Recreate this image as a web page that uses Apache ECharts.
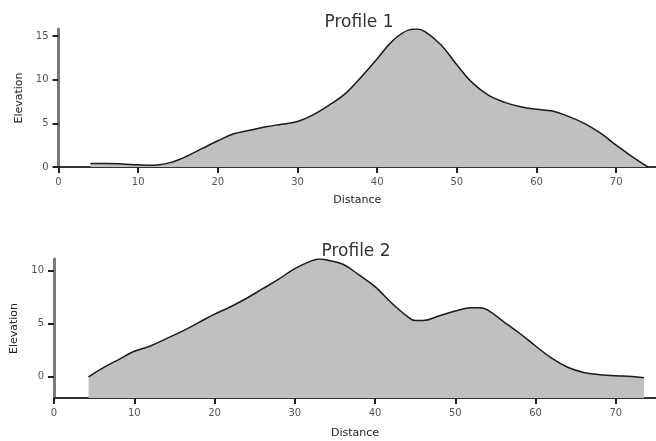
<!DOCTYPE html>
<html>
<head>
<meta charset="utf-8">
<title>Elevation profiles</title>
<script src="https://cdn.jsdelivr.net/npm/echarts@6/dist/echarts.min.js"></script>
<style>
  html, body { margin: 0; padding: 0; background: #ffffff; }
  #chart { width: 656px; height: 441px; }
</style>
</head>
<body>
<div id="chart"></div>
<script>
// Profile 1: distance along the transect and elevation at each sample
const distance1 = [4, 6, 8, 10, 12, 13, 14, 15, 16, 18, 20, 22, 24, 26, 28, 30, 32, 34, 36, 38,
                   40, 42, 44, 45, 46, 48, 50, 52, 54, 56, 58, 60, 62, 64, 66, 68, 70, 72, 74];
const elevation1 = [0.4, 0.4, 0.35, 0.25, 0.2, 0.3, 0.5, 0.8, 1.2, 2.1, 3.0, 3.8, 4.2, 4.6, 4.9, 5.2, 6.0, 7.1, 8.4, 10.3,
                    12.4, 14.5, 15.7, 15.8, 15.5, 14.0, 11.7, 9.6, 8.2, 7.4, 6.9, 6.6, 6.4, 5.8, 5.0, 3.9, 2.5, 1.2, 0];

// Profile 2
const distance2 = [4.3, 6, 8, 10, 12, 14, 16, 18, 20, 22, 24, 26, 28, 30, 32, 33, 34, 36, 38, 40,
                   42, 44, 45, 46, 48, 50, 52, 53, 54, 56, 58, 60, 62, 64, 66, 68, 70, 72, 73.5];
const elevation2 = [0, 0.8, 1.6, 2.4, 2.9, 3.6, 4.3, 5.1, 5.9, 6.6, 7.4, 8.3, 9.2, 10.2, 10.9, 11.1, 11.0, 10.6, 9.6, 8.5,
                    7.0, 5.7, 5.3, 5.3, 5.75, 6.2, 6.5, 6.5, 6.3, 5.2, 4.1, 2.9, 1.75, 0.9, 0.4, 0.2, 0.1, 0.03, -0.1];

const titles = ['Profile 1', 'Profile 2'];
const xTicks = [0, 10, 20, 30, 40, 50, 60, 70];
const yTicks1 = [0, 5, 10, 15];
const yTicks2 = [0, 5, 10];

const FONT = 'DejaVu Sans';
const tickLine = { color: '#222', width: 2 };
const labelText = { fontFamily: FONT, fontSize: 10, color: '#555' };
const nameText = { fontFamily: FONT, fontSize: 11, color: '#222' };

function pairs(xs, ys) {
  return xs.map((x, i) => [x, ys[i]]);
}

function xAxisFor(gridIndex, gap) {
  return {
    type: 'value', gridIndex, min: 0, max: 75,
    name: 'Distance', nameLocation: 'middle', nameGap: gap,
    nameTextStyle: nameText,
    axisLine: { show: true, onZero: false, lineStyle: { color: '#333', width: 2 } },
    axisTick: { show: true, inside: false, length: 6, customValues: xTicks, lineStyle: tickLine },
    axisLabel: Object.assign({ customValues: xTicks, margin: 10 }, labelText),
    splitLine: { show: false }
  };
}

function yAxisFor(gridIndex, min, max, ticks, gap) {
  return {
    type: 'value', gridIndex, min, max,
    name: 'Elevation', nameLocation: 'middle', nameGap: gap, nameRotate: 90,
    nameTextStyle: nameText,
    axisLine: { show: true, lineStyle: { color: '#7a7a7a', width: 3 } },
    axisTick: { show: true, inside: false, length: 6, customValues: ticks, lineStyle: tickLine },
    axisLabel: Object.assign({ customValues: ticks, margin: 10 }, labelText),
    splitLine: { show: false }
  };
}

function profileSeries(idx, data) {
  return {
    type: 'line', xAxisIndex: idx, yAxisIndex: idx,
    data, smooth: 0.4, symbol: 'none',
    lineStyle: { color: '#1a1a1a', width: 1.5 },
    areaStyle: { color: '#c0c0c0', opacity: 1, origin: 'start' },
    silent: true
  };
}

const chart = echarts.init(document.getElementById('chart'), null, { renderer: 'canvas' });
chart.setOption({
  animation: false,
  backgroundColor: '#ffffff',
  title: [
    { text: titles[0], left: 354, top: 9, textAlign: 'center',
      textStyle: { fontFamily: FONT, fontSize: 17, fontWeight: 'normal', color: '#333' } },
    { text: titles[1], left: 351, top: 238, textAlign: 'center',
      textStyle: { fontFamily: FONT, fontSize: 17, fontWeight: 'normal', color: '#333' } }
  ],
  grid: [
    { left: 58.5, top: 29, width: 597.5, height: 138, outerBoundsMode: 'none', containLabel: false },
    { left: 54, top: 259, width: 602, height: 139, outerBoundsMode: 'none', containLabel: false }
  ],
  xAxis: [xAxisFor(0, 28), xAxisFor(1, 30)],
  yAxis: [yAxisFor(0, 0, 15.8, yTicks1, 34), yAxisFor(1, -2, 11.1, yTicks2, 34)],
  series: [
    profileSeries(0, pairs(distance1, elevation1)),
    profileSeries(1, pairs(distance2, elevation2))
  ]
});
</script>
</body>
</html>
